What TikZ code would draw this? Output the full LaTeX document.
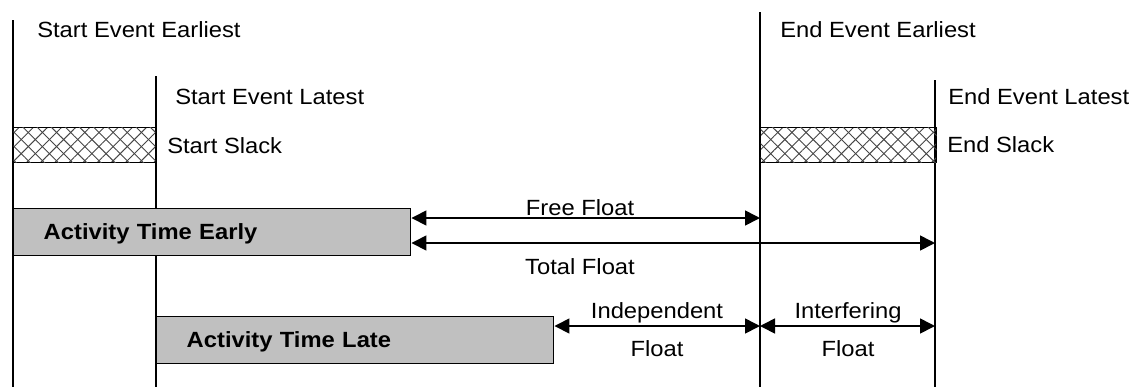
\documentclass[tikz,border=0pt]{standalone}
\usepackage{fontspec}
\setmainfont{Liberation Sans}[FakeStretch=1.08]
\usetikzlibrary{arrows.meta,patterns.meta}
\definecolor{bargray}{RGB}{192,192,192}
\definecolor{hatchgray}{RGB}{70,70,70}
\begin{document}
\begin{tikzpicture}[x=0.75pt,y=-0.75pt,
  every node/.style={font=\fontsize{16.5pt}{19pt}\selectfont, inner sep=0pt},
  evline/.style={line width=1.5pt},
  bar/.style={draw, line width=1.1pt, fill=bargray, minimum width=297.75pt,
    minimum height=35.25pt, text width=252.75pt, inner xsep=22.5pt, inner ysep=0pt,
    align=left, text height=11.6pt, text depth=0pt,
    font=\fontsize{16.5pt}{19pt}\selectfont\bfseries, anchor=north west},
  slack/.style={draw, line width=1.1pt, anchor=north west, minimum height=26.25pt,
    pattern={Lines[angle=45,distance=7.5pt,line width=0.7pt]}, pattern color=hatchgray,
    postaction={pattern={Lines[angle=-45,distance=7.5pt,line width=0.7pt]}, pattern color=hatchgray}},
  dim/.style={line width=1.2pt, {Triangle[length=11.25pt,width=11.25pt]}-{Triangle[length=11.25pt,width=11.25pt]}},
  lbl/.style={anchor=base west},
  clbl/.style={anchor=base}
]
\useasboundingbox (0,0) rectangle (1143,387);
% event lines
\coordinate (SEtop) at (13,20);  \coordinate (SEbot) at (13,387);
\coordinate (SLtop) at (156,76); \coordinate (SLbot) at (156,387);
\coordinate (EEtop) at (760,12); \coordinate (EEbot) at (760,387);
\coordinate (ELtop) at (935,80); \coordinate (ELbot) at (935,387);
\draw[evline] (SEtop) -- (SEbot);
\draw[evline] (SLtop) -- (SLbot);
\draw[evline] (EEtop) -- (EEbot);
\draw[evline] (ELtop) -- (ELbot);
% slack boxes
\node[slack, minimum width=106.5pt] (sslack) at (13,127) {};
\node[slack, minimum width=132pt] (eslack) at (760,127) {};
% activity bars
\node[bar] (early) at (13,208) {Activity Time Early};
\node[bar] (late) at (156,316) {Activity Time Late};
% labels
\node[lbl] (tSEE) at (37,37) {Start Event Earliest};
\node[lbl] (tSEL) at (175,104) {Start Event Latest};
\node[lbl] (tEEE) at (780,37) {End Event Earliest};
\node[lbl] (tEEL) at (948,104) {End Event Latest};
\node[lbl] (tSS) at (167,153) {Start Slack};
\node[lbl] (tES) at (947,152) {End Slack};
\node[clbl] (tFF) at (580,215) {Free Float};
\node[clbl] (tTF) at (580,274) {Total Float};
\node[clbl] (tIF1) at (657,318) {Independent};
\node[clbl] (tIF2) at (657,356) {Float};
\node[clbl] (tIn1) at (848,318) {Interfering};
\node[clbl] (tIn2) at (848,356) {Float};
% float arrows
\coordinate (ffR) at (760,218);
\coordinate (tfR) at (935,243);
\coordinate (ifR) at (760,326);
\coordinate (inR) at (935,326);
\draw[dim] (early.east |- ffR) -- (ffR);
\draw[dim] (early.east |- tfR) -- (tfR);
\draw[dim] (late.east |- ifR) -- (ifR);
\draw[dim] (ifR) -- (inR);
\end{tikzpicture}
\end{document}
